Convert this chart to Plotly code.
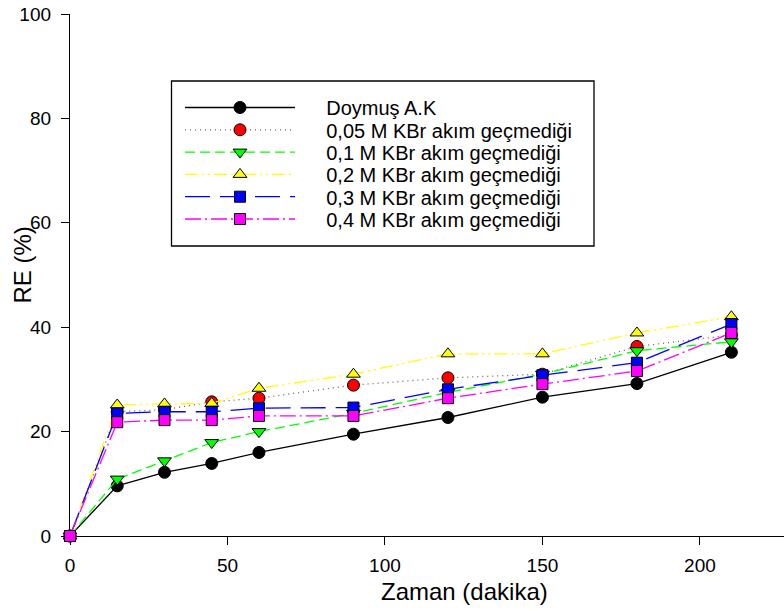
import plotly.graph_objects as go

# ---- data ----
zaman = [0, 15, 30, 45, 60, 90, 120, 150, 180, 210]
doymus_ak = [0, 9.6, 12.2, 13.9, 16.0, 19.5, 22.7, 26.6, 29.2, 35.2]
kbr_005 = [0, 23.8, 24.2, 25.7, 26.4, 28.9, 30.3, 31.0, 36.3, 38.5]
kbr_01 = [0, 10.9, 14.4, 17.9, 20.0, 23.5, 27.5, 31.0, 35.5, 37.2]
kbr_02 = [0, 25.1, 25.3, 25.4, 28.3, 31.0, 34.9, 34.9, 38.9, 42.0]
kbr_03 = [0, 23.5, 23.8, 23.8, 24.5, 24.6, 28.1, 30.8, 33.2, 40.6]
kbr_04 = [0, 21.8, 22.2, 22.2, 23.0, 23.0, 26.4, 29.1, 31.6, 38.9]

names = ["Doymuş A.K",
         "0,05 M KBr akım geçmediği",
         "0,1 M KBr akım geçmediği",
         "0,2 M KBr akım geçmediği",
         "0,3 M KBr akım geçmediği",
         "0,4 M KBr akım geçmediği"]
series = [doymus_ak, kbr_005, kbr_01, kbr_02, kbr_03, kbr_04]
x_ticks = [0, 50, 100, 150, 200]
y_ticks = [0, 20, 40, 60, 80, 100]

# ---- styles ----
fills = ["black", "#ff0000", "#00ff00", "#ffff00", "#0000ff", "#ff00ff"]
line_colors = ["black", "#7a5a5a", "#00ff00", "#ffff00", "#0000ff", "#ff00ff"]
dashes = ["solid", "1px,4px", "10px,5px", "13px,4px,2px,4px,2px,4px",
          "25px,10px", "16px,4px,2px,4px"]
symbols = ["circle", "circle", "triangle-down", "triangle-up", "square", "square"]
sizes = [12, 12, 12, 12, 11, 11]

FONT = "Liberation Sans, Arial, sans-serif"
W, H = 784, 611
L, R, T, B = 70, 0, 14, 75
pw, ph = W - L - R, H - T - B

def px_x(p):
    return (p - L) / pw

def px_y(p):
    return (H - B - p) / ph

PAD = "\u00a0\u00a0\u00a0\u00a0\u2009"

fig = go.Figure()
legend_layout = {}
for i, (nm, ys) in enumerate(zip(names, series)):
    lg = "legend" if i == 0 else f"legend{i+1}"
    fig.add_trace(go.Scatter(
        x=zaman, y=ys, name=PAD + nm, mode="lines+markers",
        line=dict(color=line_colors[i], width=1.3, dash=dashes[i]),
        marker=dict(symbol=symbols[i], size=sizes[i], color=fills[i],
                    line=dict(color="black", width=1)),
        cliponaxis=False, legend=lg))
    legend_layout[lg] = dict(
        x=px_x(180), y=px_y(107.5 + 22.3 * i), xanchor="left", yanchor="middle",
        bgcolor="rgba(0,0,0,0)", borderwidth=0, itemwidth=110,
        font=dict(family=FONT, size=20, color="black"))

fig.update_layout(
    width=W, height=H,
    margin=dict(l=L, r=R, t=T, b=B, pad=0),
    paper_bgcolor="white", plot_bgcolor="white",
    font=dict(family=FONT, size=19, color="black"),
    showlegend=True,
    **legend_layout,
    xaxis=dict(range=[0, 226.7], tickvals=x_ticks, showline=True, linecolor="black",
               linewidth=1.3, ticks="outside", ticklen=8, tickwidth=1.2,
               tickcolor="black", showgrid=False, zeroline=False,
               layer="below traces", ticklabelstandoff=4,
               tickfont=dict(family=FONT, size=19)),
    yaxis=dict(range=[0, 100], tickvals=y_ticks, showline=True, linecolor="black",
               linewidth=1.3, ticks="outside", ticklen=8, tickwidth=1.2,
               tickcolor="black", showgrid=False, zeroline=False,
               layer="below traces", ticklabelstandoff=6,
               tickfont=dict(family=FONT, size=19)),
    shapes=[dict(type="rect", xref="paper", yref="paper",
                 x0=px_x(171.5), x1=px_x(594), y0=px_y(246), y1=px_y(81),
                 line=dict(color="black", width=1.3))],
    annotations=[
        dict(text="Zaman (dakika)", xref="paper", yref="paper",
             x=px_x(464), y=px_y(591), xanchor="center", yanchor="middle",
             showarrow=False, font=dict(family=FONT, size=24)),
        dict(text="RE (%)", xref="paper", yref="paper", textangle=-90,
             x=px_x(22), y=px_y(265.5), xanchor="center", yanchor="middle",
             showarrow=False, font=dict(family=FONT, size=24)),
    ],
)

fig.write_html("out.html")
